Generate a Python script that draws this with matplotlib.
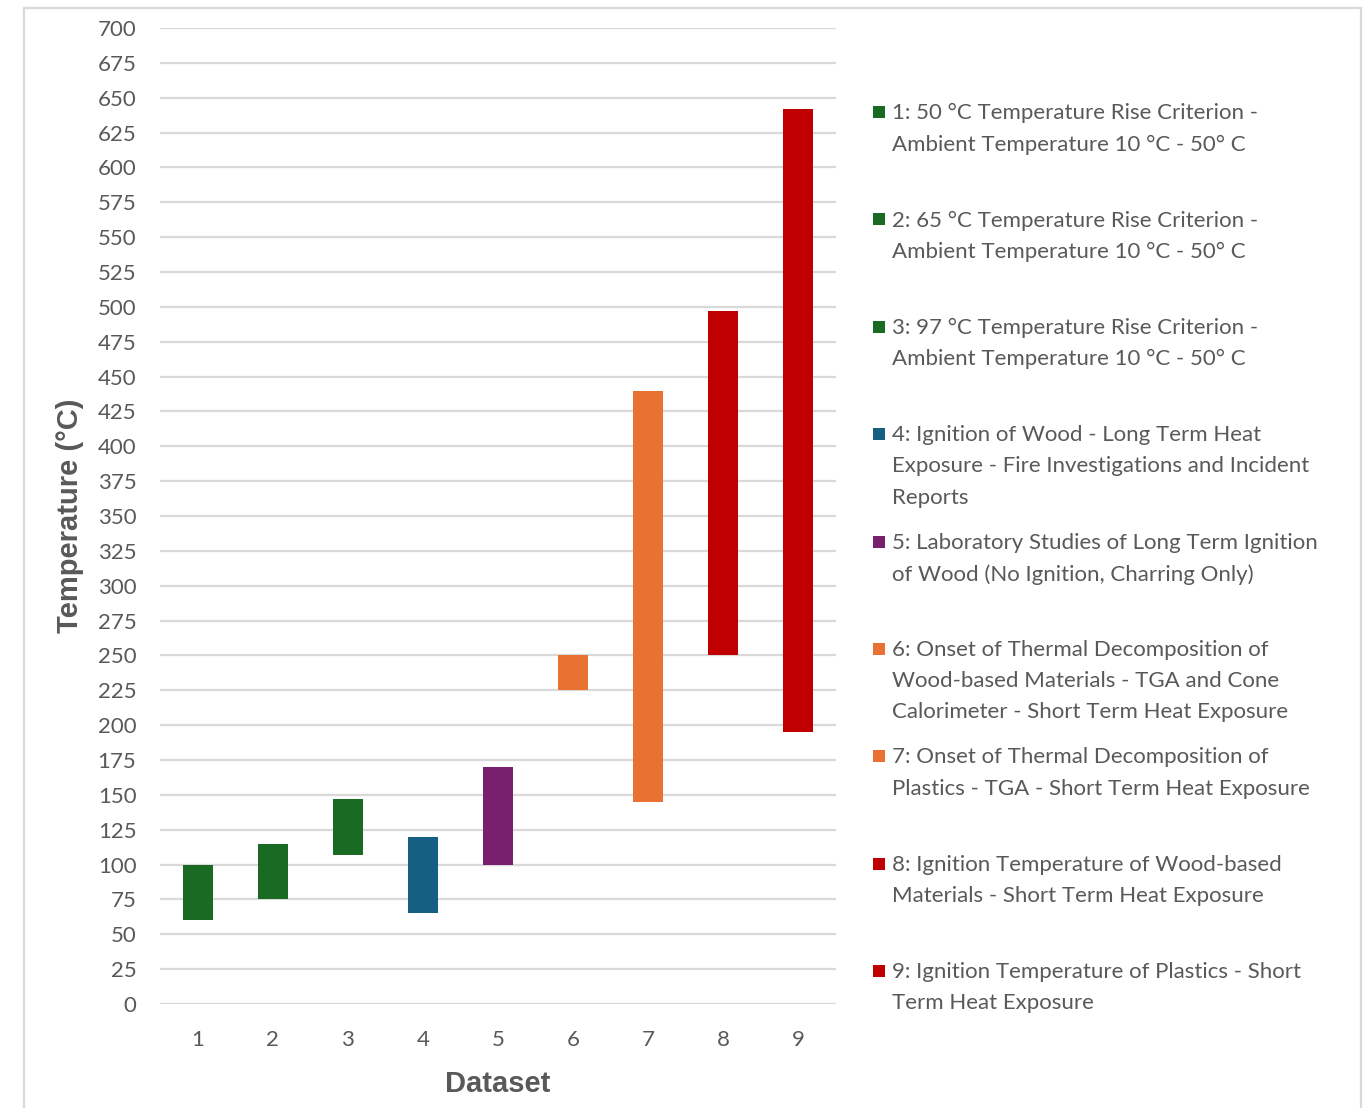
import matplotlib
matplotlib.use("Agg")
import matplotlib.pyplot as plt
from matplotlib.patches import Rectangle
from matplotlib.lines import Line2D

# ---- data ----
datasets = ["1", "2", "3", "4", "5", "6", "7", "8", "9"]
low_temp = [60, 75, 107, 65, 100, 225, 145, 250, 195]
high_temp = [100, 115, 147, 120, 170, 250, 440, 497, 642]
bar_colors = ["#196B24", "#196B24", "#196B24", "#156082", "#78206E",
              "#E97132", "#E97132", "#C00000", "#C00000"]
legend_labels = [
    "1: 50 °C Temperature Rise Criterion -\nAmbient Temperature 10 °C - 50° C",
    "2: 65 °C Temperature Rise Criterion -\nAmbient Temperature 10 °C - 50° C",
    "3: 97 °C Temperature Rise Criterion -\nAmbient Temperature 10 °C - 50° C",
    "4: Ignition of Wood - Long Term Heat\nExposure - Fire Investigations and Incident\nReports",
    "5: Laboratory Studies of Long Term Ignition\nof Wood (No Ignition, Charring Only)",
    "6: Onset of Thermal Decomposition of\nWood-based Materials - TGA and Cone\nCalorimeter - Short Term Heat Exposure",
    "7: Onset of Thermal Decomposition of\nPlastics - TGA - Short Term Heat Exposure",
    "8: Ignition Temperature of Wood-based\nMaterials - Short Term Heat Exposure",
    "9: Ignition Temperature of Plastics - Short\nTerm Heat Exposure",
]
y_ticks = list(range(0, 701, 25))

W, H = 1368, 1108
TEXT = "#595959"
GRID = "#D9D9D9"

fig = plt.figure(figsize=(W / 100, H / 100), dpi=100)
fig.patch.set_facecolor("white")


def fx(px):
    return px / W


def fy(py):
    return 1 - py / H


# outer chart frame (open at the bottom)
frame_kw = dict(color=GRID, lw=1.6, transform=fig.transFigure)
fig.add_artist(Line2D([fx(24), fx(1361)], [fy(8), fy(8)], **frame_kw))
fig.add_artist(Line2D([fx(24), fx(24)], [fy(8), fy(1108)], **frame_kw))
fig.add_artist(Line2D([fx(1361), fx(1361)], [fy(8), fy(1108)], **frame_kw))

# plot area
ax = fig.add_axes([fx(160), fy(1004), fx(836) - fx(160), fy(28) - fy(1004)])
x = list(range(len(datasets)))
heights = [h - l for l, h in zip(low_temp, high_temp)]
ax.bar(x, heights, bottom=low_temp, width=0.4, color=bar_colors, zorder=3)

ax.set_xlim(-0.5, len(datasets) - 0.5)
ax.set_ylim(0, 700)
ax.set_yticks(y_ticks)
ax.set_xticks(x)
ax.set_xticklabels(datasets)
ax.yaxis.grid(True, color=GRID, lw=1.6, zorder=0)
ax.set_axisbelow(True)
for s in ax.spines.values():
    s.set_visible(False)
ax.tick_params(axis="both", length=0, labelsize=16, labelcolor=TEXT)
ax.tick_params(axis="y", pad=17)
ax.tick_params(axis="x", pad=19)
for lab in ax.get_xticklabels() + ax.get_yticklabels():
    lab.set_fontfamily("Lato")

ax.set_ylabel("Temperature (°C)", fontsize=21, fontweight="bold", color=TEXT,
              family="Liberation Sans", labelpad=10)
ax.set_xlabel("Dataset", fontsize=21, fontweight="bold", color=TEXT,
              family="Liberation Sans", labelpad=14)

# legend entries in a fixed-pitch column
entry_y0 = 112
entry_step = 107.4
for i, (lab, col) in enumerate(zip(legend_labels, bar_colors)):
    yc = entry_y0 + i * entry_step
    fig.add_artist(Rectangle((fx(873), fy(yc + 6)), fx(12), 12 / H,
                             transform=fig.transFigure, color=col, lw=0))
    fig.text(fx(892), fy(yc - 9), lab, ha="left", va="top", fontsize=16,
             family="Lato", color=TEXT, linespacing=1.70)

fig.savefig("out.png", dpi=100, facecolor="white")
